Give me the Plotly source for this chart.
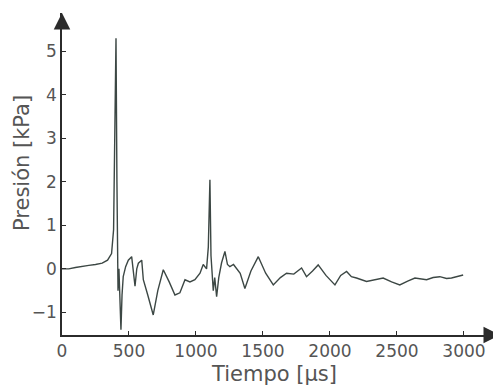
import plotly.graph_objects as go

tiempo = [0, 50, 100, 150, 200, 250, 300, 340, 370, 385, 395, 403, 410, 418, 425, 432, 440, 448, 457, 475,
          495, 520, 535, 545, 558, 570, 595, 607, 640, 681, 715, 756, 800, 843, 880, 918, 955, 992, 1030, 1054,
          1079, 1092, 1104, 1112, 1129, 1140, 1154, 1170, 1191, 1216, 1235, 1253, 1280, 1303, 1330, 1365, 1410,
          1465, 1520, 1577, 1630, 1676, 1730, 1788, 1825, 1870, 1912, 1970, 2037, 2080, 2124, 2160, 2198, 2273,
          2340, 2397, 2460, 2521, 2580, 2634, 2721, 2770, 2820, 2870, 2907, 2950, 2994]
presion = [0.0, 0.0, 0.03, 0.06, 0.08, 0.1, 0.13, 0.2, 0.35, 0.9, 3.0, 5.3, 2.0, -0.5, 0.0, -0.8, -1.4, -0.6, -0.18, 0.05,
           0.2, 0.28, -0.1, -0.4, 0.0, 0.13, 0.2, -0.25, -0.6, -1.06, -0.5, -0.02, -0.3, -0.6, -0.55, -0.25, -0.3, -0.25, -0.1, 0.1,
           0.0, 0.5, 2.05, 0.3, -0.5, -0.2, -0.64, -0.2, 0.14, 0.4, 0.1, 0.05, 0.1, 0.02, -0.1, -0.45, -0.05,
           0.28, -0.1, -0.37, -0.2, -0.1, -0.12, 0.02, -0.18, -0.05, 0.09, -0.15, -0.37, -0.15, -0.06, -0.18, -0.21, -0.29,
           -0.25, -0.21, -0.3, -0.37, -0.28, -0.21, -0.25, -0.2, -0.18, -0.22, -0.21, -0.17, -0.14]

x_ticks = [0, 500, 1000, 1500, 2000, 2500, 3000]
y_ticks = [-1, 0, 1, 2, 3, 4, 5]

X_MIN, X_MAX = 0, 3269
Y_MIN, Y_MAX = -1.52, 5.88
axis_color = "#2b2b2b"
text_color = "#555555"
font_family = "DejaVu Sans"

fig = go.Figure()
fig.add_trace(go.Scatter(x=tiempo, y=presion, mode="lines",
                         line=dict(color="#3c4744", width=1.4), showlegend=False, cliponaxis=False))

axis_common = dict(showgrid=False, zeroline=False, showline=True, linecolor=axis_color, linewidth=1.5,
                   ticks="inside", ticklen=4, tickcolor=axis_color, tickwidth=1,
                   tickfont=dict(size=17, color=text_color, family=font_family), automargin=False)

# the page body has an 8 px margin, so the figure is drawn 8 px right / down
fig.update_layout(
    width=493, height=379,
    margin=dict(l=54, r=1, t=5, b=52),
    paper_bgcolor="white", plot_bgcolor="white",
    font=dict(family=font_family, color=text_color, size=17),
    xaxis=dict(range=[X_MIN, X_MAX], tickvals=x_ticks, **axis_common),
    yaxis=dict(range=[Y_MIN, Y_MAX], tickvals=y_ticks, **axis_common),
)

# axis titles
fig.add_annotation(text="Tiempo [µs]", x=0.5, y=0, xref="paper", yref="paper", yshift=-39,
                   xshift=-7, showarrow=False, yanchor="middle",
                   font=dict(size=21, color=text_color, family=font_family))
fig.add_annotation(text="Presión [kPa]", x=0, y=0.5, xref="paper", yref="paper", xshift=-40,
                   yshift=11, showarrow=False, textangle=-90, xanchor="center",
                   font=dict(size=21, color=text_color, family=font_family))

# axis arrowheads
fig.add_annotation(x=X_MAX, y=Y_MIN, xref="x", yref="y", ax=-14, ay=0,
                   showarrow=True, arrowhead=2, arrowsize=2.2, arrowwidth=1.5, arrowcolor=axis_color, text="")
fig.add_annotation(x=X_MIN, y=Y_MAX, xref="x", yref="y", ax=0, ay=14,
                   showarrow=True, arrowhead=2, arrowsize=2.2, arrowwidth=1.5, arrowcolor=axis_color, text="")

fig.write_html("out.html")
